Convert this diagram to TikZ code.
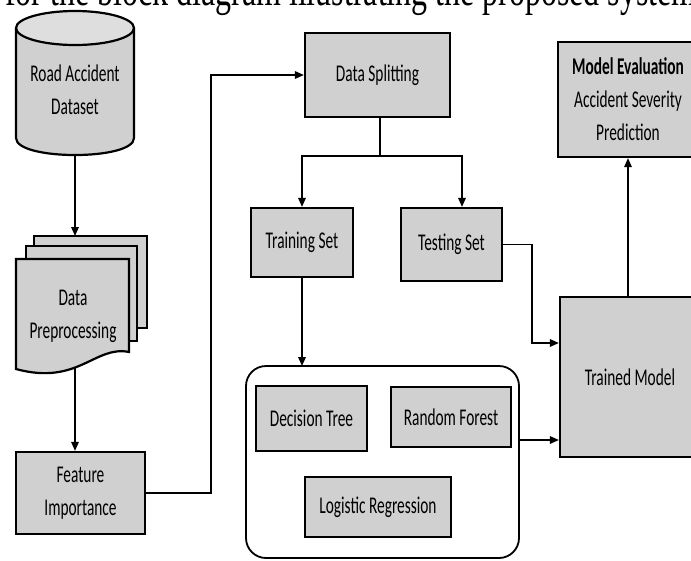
\documentclass[tikz,border=0pt]{standalone}
\usepackage{fontspec}
\setmainfont[FakeStretch=0.64]{Carlito}
\newfontfamily\capfont[FakeStretch=0.68]{Liberation Serif}
\usetikzlibrary{arrows.meta}
\definecolor{boxgray}{HTML}{D0D0D0}
\definecolor{topgray}{HTML}{DEDEDE}
\tikzset{
  lbl/.style={align=center, font=\fontsize{24}{33}\selectfont, inner sep=0pt},
  box/.style={lbl, draw=black, line width=2.2pt, fill=boxgray},
  area/.style={inner sep=0pt, outer sep=0pt},
  shapeline/.style={draw=black, line width=2.2pt},
  conn/.style={line width=1.6pt},
  arr/.style={conn, -{Triangle[length=9pt,width=7.5pt]}},
}
\begin{document}
\begin{tikzpicture}[x=1pt,y=-1pt]
\useasboundingbox (0,0) rectangle (691,560);

% cut-off caption line at the top
\node[anchor=base west, inner sep=0pt, font=\capfont\fontsize{47}{47}\selectfont] (cap) at (5,5.5) {for the block diagram illustrating the proposed system};

% ---- Road Accident Dataset (cylinder)
\draw[shapeline, fill=boxgray] (16,28) -- (16,138) .. controls (16,160.7) and (134,160.7) .. (134,138) -- (134,28);
\draw[shapeline, fill=topgray] (75,28) ellipse [x radius=59, y radius=17];
\node[area, minimum width=118pt, minimum height=145pt] (db) at (75,82.5) {};
\node[lbl] (dbtext) at (75,90) {Road Accident\\Dataset};

% ---- Data Preprocessing (multi-document)
\draw[shapeline, fill=boxgray] (34,236) rectangle (147,328);
\draw[shapeline, fill=boxgray] (26,246) rectangle (137,341);
\draw[shapeline, fill=boxgray] (16,259) -- (129,259) -- (129,352)
   .. controls (95,345) and (78,386) .. (16,369) -- cycle;
\node[area, minimum width=131pt, minimum height=135pt] (doc) at (81.5,303.5) {};
\node[lbl] (doctext) at (73,316) {Data\\Preprocessing};

% ---- Feature Importance
\node[box, minimum width=129pt, minimum height=82pt] (fi) at (80.5,493) {Feature\\Importance};

% ---- Data Splitting and sets
\node[box, minimum width=145pt, minimum height=84pt] (ds) at (377.5,75) {Data Splitting};
\node[box, minimum width=102pt, minimum height=69pt] (tr) at (302,242.5) {Training Set};
\node[box, minimum width=101pt, minimum height=73pt] (te) at (451.5,244.5) {Testing Set};

% ---- model container
\node[area, draw=black, line width=1.8pt, rounded corners=20pt, minimum width=273pt, minimum height=192pt] (cont) at (382.5,462) {};
\node[box, minimum width=111pt, minimum height=65pt] (dt) at (311.5,418.5) {Decision Tree};
\node[box, minimum width=120pt, minimum height=60pt] (rf) at (451,417) {Random Forest};
\node[box, minimum width=146pt, minimum height=60pt] (lr) at (378,507) {Logistic Regression};

% ---- right column
\node[box, minimum width=140pt, minimum height=160pt] (tm) at (630,377) {Trained Model};
\node[box, minimum width=140pt, minimum height=115pt] (me) at (628,99.5) {{\bfseries Model Evaluation}\\Accident Severity\\Prediction};

% ---- connectors
\draw[arr] (db.south) -- (db.south |- doc.north);
\draw[arr] (db.south |- doc.south) ++(0,-4) -- (db.south |- fi.north);
\draw[arr] (fi.east) -- ++(65,0) |- (ds.west);
\draw[conn] (ds.south) ++(2.5,0) coordinate (dsb) -- ++(0,38) coordinate (split);
\draw[arr] (split) -| (tr.north);
\draw[arr] (split) -| ([xshift=10.5pt]te.north);
\draw[arr] (te.east) -- ++(29,0) |- ([yshift=34pt]tm.west);
\draw[arr] (tr.south) -- (tr.south |- cont.north);
\draw[arr] ([yshift=22pt]cont.east) -- ([yshift=22pt]cont.east -| tm.west);
\draw[arr] ([xshift=-2pt]tm.north) -- ([xshift=-2pt]tm.north |- me.south);
\end{tikzpicture}
\end{document}
